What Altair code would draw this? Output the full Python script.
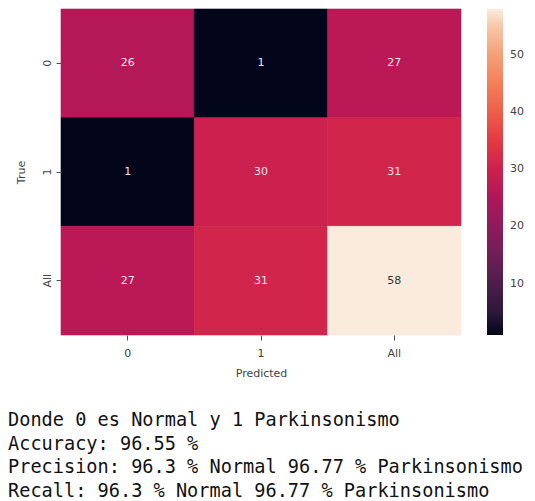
import altair as alt
import pandas as pd

true_labels = ["0", "1", "All"]
pred_labels = ["0", "1", "All"]
values = [
    [26, 1, 27],
    [1, 30, 31],
    [27, 31, 58],
]
legend_ticks = [10, 20, 30, 40, 50]
text_lines = [
    "Donde 0 es Normal y 1 Parkinsonismo",
    "Accuracy: 96.55 %",
    "Precision: 96.3 % Normal 96.77 % Parkinsonismo",
    "Recall: 96.3 % Normal 96.77 % Parkinsonismo",
]

# rocket colormap stops
rocket_colors = ["#03051a", "#35193e", "#701f57", "#ad1759", "#e13342",
                 "#f37651", "#f6b48f", "#faebdd"]
rocket_pos = [0, 1 / 12, 3 / 12, 5 / 12, 7 / 12, 9 / 12, 11 / 12, 1]
vmin, vmax = 1, 58
color_domain = [vmin + (vmax - vmin) * p for p in rocket_pos]

rows = []
for i, t in enumerate(true_labels):
    for j, p in enumerate(pred_labels):
        rows.append({"True": t, "Predicted": p, "value": values[i][j],
                     "edge": values[i][j]})
df = pd.DataFrame(rows)

base = alt.Chart(df).encode(
    x=alt.X("Predicted:N", sort=pred_labels,
            axis=alt.Axis(title="Predicted", labelAngle=0, labelPadding=7, titlePadding=9)),
    y=alt.Y("True:N", sort=true_labels,
            axis=alt.Axis(title="True", labelAngle=-90, labelPadding=4, titlePadding=15)),
)

rect = base.mark_rect(strokeWidth=0.6).encode(
    color=alt.Color(
        "value:Q",
        scale=alt.Scale(domain=color_domain, range=rocket_colors),
        legend=alt.Legend(
            title=None, values=legend_ticks, gradientLength=326,
            gradientThickness=16, offset=26, padding=0,
            labelFontSize=11, labelColor="#444", labelOffset=7,
            labelFont="DejaVu Sans",
        ),
    ),
    stroke=alt.Stroke("edge:Q",
                      scale=alt.Scale(domain=color_domain, range=rocket_colors),
                      legend=None),
)

text = base.mark_text(fontSize=11, font="DejaVu Sans").encode(
    text="value:Q",
    color=alt.condition(alt.datum.value > 45, alt.value("#333333"), alt.value("#f0e0ea")),
)

chart = (rect + text).properties(
    width=400,
    height=326,
    padding={"left": 0, "top": 0, "right": 0, "bottom": 0},
    title=alt.TitleParams(
        text=text_lines,
        orient="bottom",
        anchor="start",
        font="DejaVu Sans Mono",
        fontSize=18.6,
        fontWeight="normal",
        color="#111",
        lineHeight=23.5,
        offset=33,
        dx=-7,
    ),
).resolve_scale(color="independent").configure_view(stroke=None).configure_axis(
    domain=False,
    tickSize=5,
    tickColor="#555",
    labelFontSize=11,
    labelFont="DejaVu Sans",
    labelColor="#444",
    titleFont="DejaVu Sans",
    titleFontSize=11,
    titleFontWeight="normal",
    titleColor="#444",
)

chart.save("out.html", embed_options={"renderer": "svg", "actions": False})
